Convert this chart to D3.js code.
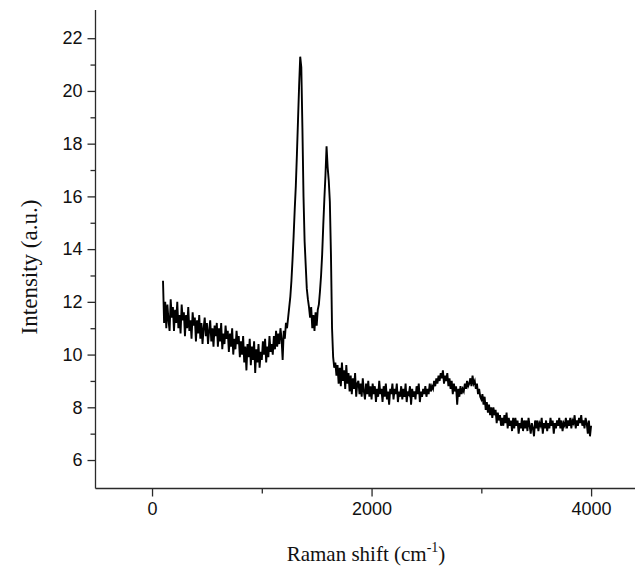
<!DOCTYPE html>
<html>
<head>
<meta charset="utf-8">
<script src="https://cdn.jsdelivr.net/npm/d3@7"></script>
<style>
  html, body { margin: 0; padding: 0; background: #fff; }
  svg { display: block; }
</style>
</head>
<body>
<svg id="chart" width="635" height="572"></svg>
<script>
// ---- data ----
const shiftStart = 100;      // first Raman shift sampled (cm-1)
const shiftStep = 10;        // sampling step (cm-1)
const intensity = [
  // 100-190
  12.8, 11.2, 12.0, 11.0, 11.9, 11.3, 10.9, 12.1, 11.4, 11.8,
  // 200-290
  10.9, 11.7, 11.2, 12.0, 11.0, 11.5, 10.8, 11.9, 11.3, 11.6,
  // 300-390
  10.7, 11.5, 11.0, 11.8, 10.9, 11.3, 10.6, 11.6, 11.1, 11.4,
  // 400-490
  10.5, 11.3, 10.8, 11.5, 10.6, 11.2, 10.4, 11.0, 11.4, 10.7,
  // 500-590
  11.2, 10.4, 10.9, 11.3, 10.5, 11.0, 10.3, 11.1, 10.7, 11.2,
  // 600-690
  10.3, 11.0, 10.5, 11.2, 10.2, 10.8, 10.4, 11.1, 10.6, 10.9,
  // 700-790
  10.1, 10.8, 10.3, 11.0, 10.0, 10.6, 10.2, 10.9, 10.4, 10.7,
  // 800-890
  9.9, 10.5, 10.0, 10.7, 9.7, 10.3, 9.4, 10.4, 9.9, 10.6,
  // 900-990
  9.6, 10.3, 9.8, 10.5, 9.3, 10.2, 9.7, 10.4, 9.5, 10.1,
  // 1000-1090
  9.8, 10.5, 10.0, 10.6, 9.7, 10.3, 9.9, 10.7, 10.1, 10.4,
  // 1100-1190
  10.0, 10.7, 10.2, 10.9, 10.3, 10.8, 10.4, 11.0, 10.6, 9.8,
  // 1200-1290
  10.9, 10.6, 11.2, 11.0, 11.4, 11.8, 12.2, 12.8, 13.6, 14.5,
  // 1300-1390 (D band)
  15.5, 16.4, 17.6, 18.9, 20.2, 21.3, 20.9, 18.6, 16.0, 14.3,
  // 1400-1490
  13.4, 12.5, 12.1, 11.8, 11.4, 11.8, 11.0, 11.5, 10.9, 11.6,
  // 1500-1590 (G band)
  11.1, 11.7, 11.9, 12.4, 13.0, 13.8, 14.9, 15.9, 16.8, 17.9,
  // 1600-1690
  17.1, 16.6, 15.8, 13.8, 11.0, 9.9, 9.5, 9.7, 9.2, 9.6,
  // 1700-1790
  8.9, 9.5, 8.8, 9.7, 9.0, 9.4, 8.7, 9.6, 8.9, 9.3,
  // 1800-1890
  8.6, 9.2, 8.5, 9.1, 8.7, 9.3, 8.4, 8.9, 9.0, 8.5,
  // 1900-1990
  8.9, 8.4, 9.1, 8.6, 8.3, 8.9, 8.5, 9.0, 8.4, 8.8,
  // 2000-2090
  8.3, 8.9, 8.5, 8.8, 8.2, 8.7, 8.4, 9.0, 8.5, 8.7,
  // 2100-2190
  8.2, 8.8, 8.4, 8.9, 8.3, 8.6, 8.1, 8.7, 8.5, 8.9,
  // 2200-2290
  8.3, 8.7, 8.5, 8.9, 8.2, 8.6, 8.4, 8.8, 8.3, 8.7,
  // 2300-2390
  8.4, 8.9, 8.2, 8.6, 8.5, 8.8, 8.1, 8.7, 8.4, 8.6,
  // 2400-2490
  8.3, 8.8, 8.5, 8.9, 8.2, 8.6, 8.4, 8.7, 8.5, 8.8,
  // 2500-2590
  8.4, 8.7, 8.5, 8.9, 8.6, 8.8, 8.7, 9.0, 8.8, 9.1,
  // 2600-2690 (2D band)
  8.9, 9.2, 9.0, 9.3, 9.1, 9.4, 8.9, 9.2, 9.0, 9.3,
  // 2700-2790
  8.8, 9.1, 8.7, 9.0, 8.5, 8.9, 8.6, 8.8, 8.1, 8.7,
  // 2800-2890
  8.4, 8.8, 8.5, 8.7, 8.6, 8.9, 8.7, 9.0, 8.8, 8.9,
  // 2900-2990
  9.1, 8.8, 9.2, 8.9, 9.0, 8.7, 8.9, 8.5, 8.7, 8.4,
  // 3000-3090
  8.3, 8.5, 8.1, 8.4, 7.9, 8.2, 7.8, 8.1, 7.7, 8.0,
  // 3100-3190
  7.6, 8.0, 7.7, 7.9, 7.4, 7.8, 7.5, 7.7, 7.3, 7.6,
  // 3200-3290
  7.3, 7.7, 7.4, 7.8, 7.2, 7.6, 7.3, 7.5, 7.1, 7.6,
  // 3300-3390
  7.2, 7.6, 7.3, 7.5, 7.0, 7.4, 7.2, 7.6, 7.1, 7.5,
  // 3400-3490
  7.2, 7.5, 7.1, 7.6, 7.3, 7.0, 7.4, 7.2, 6.9, 7.5,
  // 3500-3590
  7.2, 7.5, 7.1, 7.4, 7.3, 7.6, 7.0, 7.4, 7.2, 7.5,
  // 3600-3690
  7.1, 7.4, 7.2, 7.6, 7.3, 7.5, 7.0, 7.4, 7.2, 7.5,
  // 3700-3790
  7.3, 7.6, 7.2, 7.5, 7.1, 7.4, 7.3, 7.6, 7.2, 7.5,
  // 3800-3890
  7.3, 7.6, 7.2, 7.5, 7.4, 7.7, 7.2, 7.5, 7.3, 7.6,
  // 3900-3990
  7.4, 7.7, 7.3, 7.5, 7.2, 7.6, 7.4, 7.0, 7.5, 6.9,
  // 4000
  7.3
];
const xMajorTicks = [0, 2000, 4000];
const xMinorTicks = [1000, 3000];
const yMajorTicks = [6, 8, 10, 12, 14, 16, 18, 20, 22];
const yMinorTicks = [7, 9, 11, 13, 15, 17, 19, 21];
const xTitle = "Raman shift (cm";
const xTitleSup = "-1";
const yTitle = "Intensity (a.u.)";

// ---- chart ----
const svg = d3.select("#chart");
const axisColor = "#2a2a2a";

const x = d3.scaleLinear().domain([-515, 4400]).range([95.5, 635]);
const y = d3.scaleLinear().domain([4.92, 23.07]).range([488.5, 10]);

const data = intensity.map((v, i) => ({ shift: shiftStart + i * shiftStep, value: v }));

// spectrum line
const line = d3.line().x(d => x(d.shift)).y(d => y(d.value));
svg.append("path")
  .datum(data)
  .attr("fill", "none")
  .attr("stroke", "#000")
  .attr("stroke-width", 1.9)
  .attr("stroke-linejoin", "miter")
  .attr("d", line);

// x axis
const xAxisG = svg.append("g").attr("transform", `translate(0,${y.range()[0]})`);
xAxisG.append("g")
  .call(d3.axisBottom(x).tickValues(xMinorTicks).tickSize(5).tickSizeOuter(0).tickFormat(""))
  .call(g => g.select(".domain").remove());
xAxisG.append("g")
  .call(d3.axisBottom(x).tickValues(xMajorTicks).tickSize(8).tickSizeOuter(0).tickPadding(6).tickFormat(d3.format("d")))
  .call(g => g.select(".domain").remove())
  .call(g => g.selectAll("text")
    .attr("font-family", "'Liberation Sans', Arial, sans-serif")
    .attr("font-size", 18)
    .attr("fill", "#111"));
xAxisG.append("line")
  .attr("x1", x.range()[0]).attr("x2", 640)
  .attr("y1", 0).attr("y2", 0);

// y axis
const yAxisG = svg.append("g").attr("transform", `translate(${x.range()[0]},0)`);
yAxisG.append("g")
  .call(d3.axisLeft(y).tickValues(yMinorTicks).tickSize(5).tickSizeOuter(0).tickFormat(""))
  .call(g => g.select(".domain").remove());
yAxisG.append("g")
  .call(d3.axisLeft(y).tickValues(yMajorTicks).tickSize(8).tickSizeOuter(0).tickPadding(5).tickFormat(d3.format("d")))
  .call(g => g.select(".domain").remove())
  .call(g => g.selectAll("text")
    .attr("font-family", "'Liberation Sans', Arial, sans-serif")
    .attr("font-size", 18)
    .attr("fill", "#111"));
yAxisG.append("line")
  .attr("x1", 0).attr("x2", 0)
  .attr("y1", y.range()[1]).attr("y2", y.range()[0]);

svg.selectAll(".tick line").attr("stroke", axisColor).attr("stroke-width", 1.3);
svg.selectAll("g > line").attr("stroke", axisColor).attr("stroke-width", 1.3);

// axis titles
const xt = svg.append("text")
  .attr("x", 366).attr("y", 561)
  .attr("text-anchor", "middle")
  .attr("font-family", "'Liberation Serif', 'Times New Roman', serif")
  .attr("font-size", 21)
  .attr("fill", "#111");
xt.append("tspan").text(xTitle);
xt.append("tspan").attr("dy", -9).attr("font-size", 14).text(xTitleSup);
xt.append("tspan").attr("dy", 9).text(")");

svg.append("text")
  .attr("transform", "translate(37,267) rotate(-90)")
  .attr("text-anchor", "middle")
  .attr("font-family", "'Liberation Serif', 'Times New Roman', serif")
  .attr("font-size", 23)
  .attr("fill", "#111")
  .text(yTitle);
</script>
</body>
</html>
